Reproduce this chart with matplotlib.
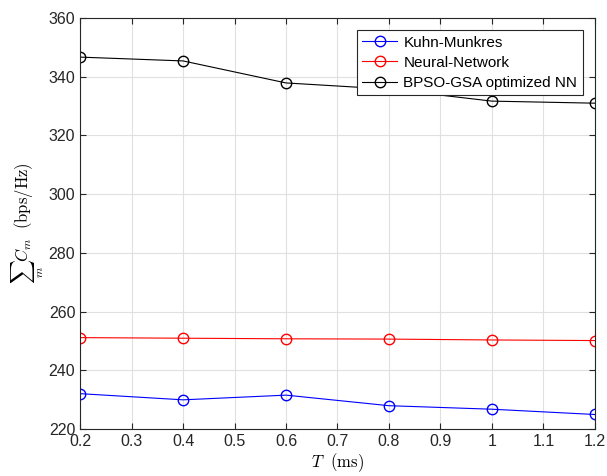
import matplotlib
matplotlib.use("Agg")
import matplotlib.pyplot as plt

plt.rcParams['font.family'] = ['Liberation Sans', 'DejaVu Sans']
plt.rcParams['mathtext.fontset'] = 'cm'

T = [0.2, 0.4, 0.6, 0.8, 1.0, 1.2]
kuhn_munkres = [232.0, 229.9, 231.5, 227.9, 226.7, 224.9]
neural_network = [251.1, 250.9, 250.7, 250.6, 250.3, 250.1]
bpso_gsa_nn = [346.7, 345.4, 337.9, 335.8, 331.7, 331.0]

fig = plt.figure(figsize=(6.07, 4.76), dpi=100)
ax = fig.add_axes([0.132, 0.099, 0.848, 0.863])

ax.plot(T, kuhn_munkres, color='#0000ff', marker='o', mfc='none', ms=7.5, lw=0.8, label='Kuhn-Munkres')
ax.plot(T, neural_network, color='#ff0000', marker='o', mfc='none', ms=7.5, lw=0.8, label='Neural-Network')
ax.plot(T, bpso_gsa_nn, color='#000000', marker='o', mfc='none', ms=7.5, lw=0.8, label='BPSO-GSA optimized NN')

ax.set_xlim(0.2, 1.2)
ax.set_ylim(220, 360)
ax.set_xticks([0.2, 0.3, 0.4, 0.5, 0.6, 0.7, 0.8, 0.9, 1.0, 1.1, 1.2])
ax.set_xticklabels(['0.2', '0.3', '0.4', '0.5', '0.6', '0.7', '0.8', '0.9', '1', '1.1', '1.2'])
ax.set_yticks(range(220, 361, 20))
ax.tick_params(direction='in', top=True, right=True, labelsize=11.5, colors='#262626', length=4)
ax.grid(True, color='#e0e0e0', lw=0.8)
for s in ax.spines.values():
    s.set_color('#262626')
    s.set_linewidth(0.8)

ax.set_xlabel(r'$T\ \ \mathrm{(ms)}$', fontsize=12, labelpad=2)
ax.set_ylabel(r'$\sum_m C_m\ \ \mathrm{(bps/Hz)}$', fontsize=12, labelpad=2)

leg = ax.legend(loc='upper right', fontsize=11, fancybox=False, edgecolor='#262626', framealpha=1,
                borderaxespad=0.8, handlelength=2.3, borderpad=0.35, labelspacing=0.4, handletextpad=0.4)
leg.get_frame().set_linewidth(0.8)

fig.savefig('out.png', dpi=100)
